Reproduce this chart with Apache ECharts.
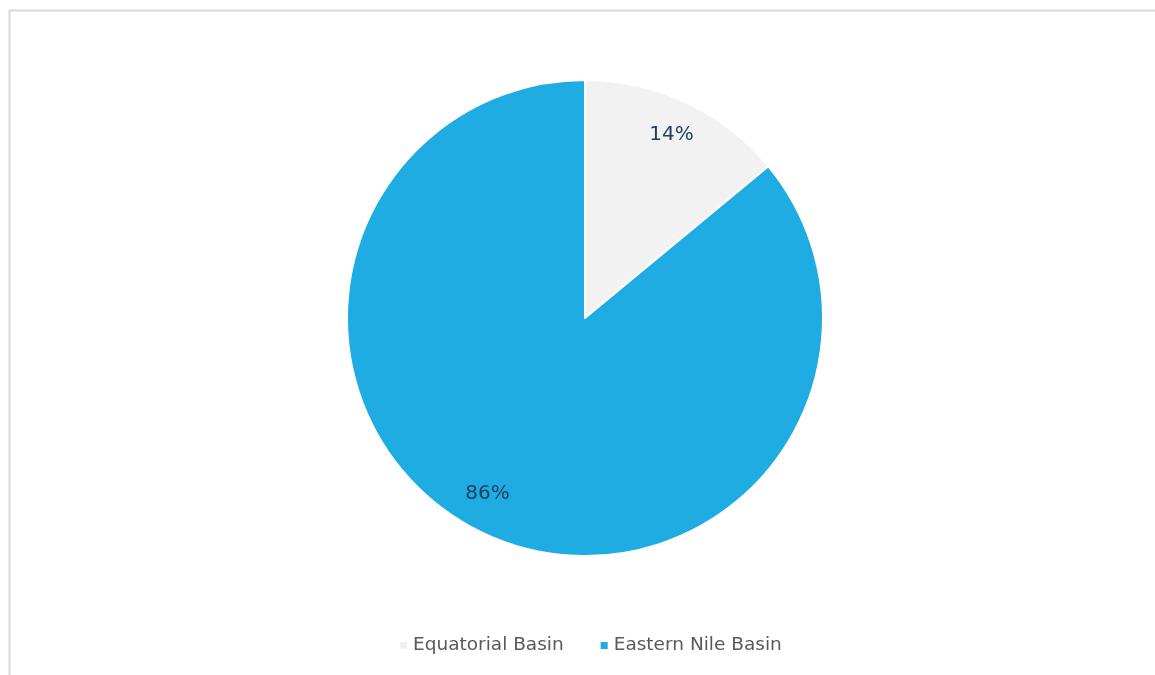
<!DOCTYPE html>
<html>
<head>
<meta charset="utf-8">
<script src="https://cdn.jsdelivr.net/npm/echarts@6/dist/echarts.min.js"></script>
<style>
  html, body { margin: 0; padding: 0; background: #fff; }
  #chart { width: 1155px; height: 675px; }
</style>
</head>
<body>
<div id="chart"></div>
<script>
const categories = ['Equatorial Basin', 'Eastern Nile Basin'];
const shares = [14, 86];
const colors = ['#f2f2f2', '#1facE3'];
// 标签微调偏移（仿 Excel 的 bestFit 位置）
const labelOffsets = [[0, 0], [-11, -8]];

const pieData = categories.map((name, i) => ({ name, value: shares[i], itemStyle: { color: colors[i] } }));

const myEChart = echarts.init(document.getElementById('chart'));
const option = {
  animation: false,
  graphic: [{
    type: 'rect',
    shape: { x: 9.5, y: 10.5, width: 1200, height: 700 },
    style: { fill: 'none', stroke: '#d9d9d9', lineWidth: 2 },
    silent: true
  }],
  legend: {
    data: categories,
    bottom: 15,
    left: 393,
    itemWidth: 9,
    itemHeight: 9,
    itemGap: 35,
    icon: 'rect',
    textStyle: { fontFamily: 'DejaVu Sans', fontSize: 18.5, color: '#595959' }
  },
  series: [
    {
      // 扇形本体
      type: 'pie',
      center: [585, 318],
      radius: [0, 238],
      startAngle: 90,
      clockwise: true,
      data: pieData,
      itemStyle: { borderColor: '#fff', borderWidth: 2 },
      label: { show: false },
      labelLine: { show: false },
      silent: true
    },
    {
      // 标签层（透明），让标签落在更靠外的位置
      type: 'pie',
      center: [585, 318],
      radius: [0, 400],
      startAngle: 90,
      clockwise: true,
      data: pieData.map((d, i) => ({ name: d.name, value: d.value, label: { offset: labelOffsets[i] } })),
      itemStyle: { color: 'rgba(0,0,0,0)' },
      label: {
        show: true,
        position: 'inside',
        formatter: '{d}%',
        fontFamily: 'DejaVu Sans',
        fontSize: 20,
        color: '#1f3f5f'
      },
      labelLine: { show: false },
      emphasis: { disabled: true },
      silent: true
    }
  ]
};
myEChart.setOption(option);
window.addEventListener('resize', function () {
  myEChart.resize();
});
</script>
</body>
</html>
